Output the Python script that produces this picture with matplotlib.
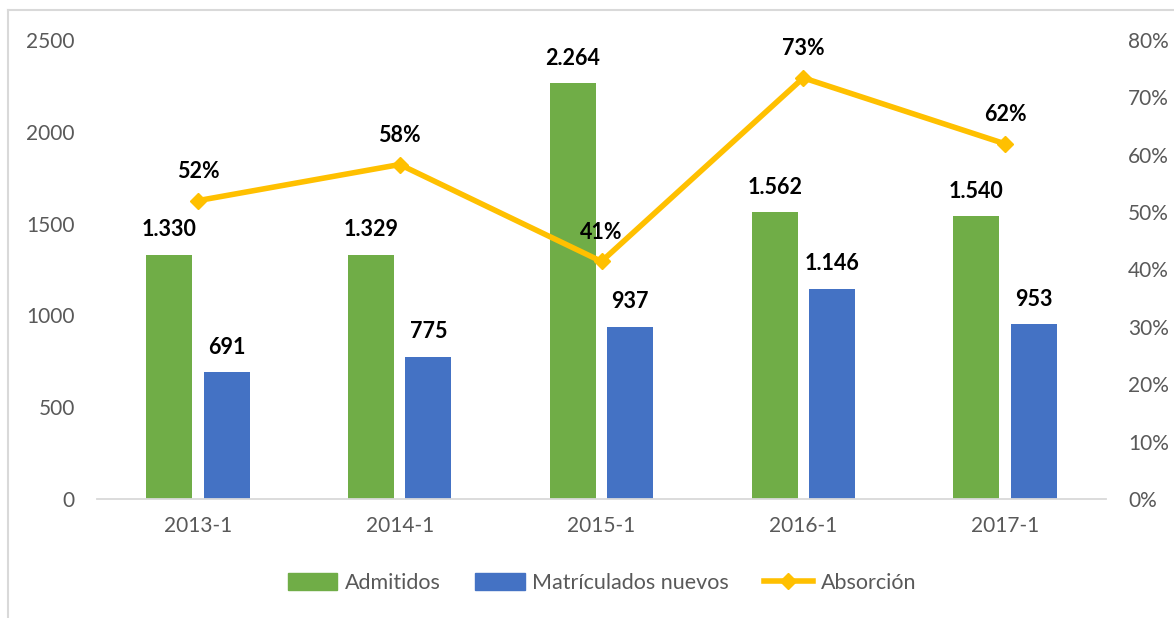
import matplotlib
matplotlib.use("Agg")
import matplotlib.pyplot as plt
from matplotlib.lines import Line2D
from matplotlib.patches import Patch
import numpy as np

categories = ["2013-1", "2014-1", "2015-1", "2016-1", "2017-1"]
admitidos = [1330, 1329, 2264, 1562, 1540]
matriculados = [691, 775, 937, 1146, 953]
absorcion = [0.520, 0.583, 0.414, 0.734, 0.619]
left_ticks = [0, 500, 1000, 1500, 2000, 2500]
right_ticks = [0, 0.1, 0.2, 0.3, 0.4, 0.5, 0.6, 0.7, 0.8]

GREEN = "#70AD47"
BLUE = "#4472C4"
YELLOW = "#FFC000"
GRAY = "#595959"
FONT = "Lato"

plt.rcParams['font.family'] = [FONT, 'DejaVu Sans']

fig = plt.figure(figsize=(11.74, 6.18), dpi=100)
ax = fig.add_axes([97/1174, 1-499/618, (1106-97)/1174, (499-40)/618])
ax2 = ax.twinx()

x = np.arange(len(categories))
w = 0.228
off = 0.142

ax.bar(x - off, admitidos, w, color=GREEN, zorder=2)
ax.bar(x + off, matriculados, w, color=BLUE, zorder=2)

def fmt_thousands(v):
    return f"{v:,}".replace(",", ".")

LBL = 15.5
for xi, v in zip(x, admitidos):
    ax.annotate(fmt_thousands(v), (xi - off, v), xytext=(0, 18), textcoords="offset points",
                ha="center", va="center", fontsize=LBL, fontweight="bold", color="black")
for xi, v in zip(x, matriculados):
    ax.annotate(fmt_thousands(v), (xi + off, v), xytext=(0, 18), textcoords="offset points",
                ha="center", va="center", fontsize=LBL, fontweight="bold", color="black")

ax2.plot(x, absorcion, color=YELLOW, lw=4, marker="D", markersize=8, zorder=3,
         solid_capstyle="round")
for xi, v in zip(x, absorcion):
    ax2.annotate(f"{round(v*100):d}%", (xi, v), xytext=(0, 21), textcoords="offset points",
                 ha="center", va="center", fontsize=LBL, fontweight="bold", color="black")

ax.set_xlim(-0.5, len(categories) - 0.5)
ax.set_ylim(0, 2500)
ax2.set_ylim(0, 0.8)
ax.set_yticks(left_ticks)
ax.set_yticklabels([str(t) for t in left_ticks])
ax2.set_yticks(right_ticks)
ax2.set_yticklabels([f"{round(t*100):d}%" for t in right_ticks])
ax.set_xticks(x)
ax.set_xticklabels(categories)

for a in (ax, ax2):
    for s in a.spines.values():
        s.set_visible(False)
    a.tick_params(length=0, labelsize=15, colors=GRAY)
ax.spines["bottom"].set_visible(True)
ax.spines["bottom"].set_color("#D9D9D9")
ax.spines["bottom"].set_linewidth(1.3)
ax.tick_params(axis="y", pad=16)
ax.tick_params(axis="x", pad=12)
ax2.tick_params(axis="y", pad=16)
ax.set_zorder(1)
ax2.set_zorder(2)
ax.patch.set_visible(False)
ax2.patch.set_visible(False)

handles = [Patch(color=GREEN, label="Admitidos"),
           Patch(color=BLUE, label="Matrículados nuevos"),
           Line2D([0], [0], color=YELLOW, lw=4, marker="D", markersize=8, label="Absorción")]
fig.legend(handles=handles, loc="center", bbox_to_anchor=(602/1174, 1-583/618), ncol=3,
           frameon=False, fontsize=15.5, labelcolor=GRAY, handlelength=2.3, handleheight=0.85,
           columnspacing=1.6, handletextpad=0.35)

# outer chart frame (partially visible)
fig.add_artist(Line2D([8/1174, 8/1174], [0, 1-10/618], color="#D9D9D9", lw=1.5,
                      transform=fig.transFigure))
fig.add_artist(Line2D([8/1174, 1173/1174], [1-10/618, 1-10/618], color="#D9D9D9", lw=1.5,
                      transform=fig.transFigure))

fig.savefig("out.png", dpi=100, facecolor="white")
